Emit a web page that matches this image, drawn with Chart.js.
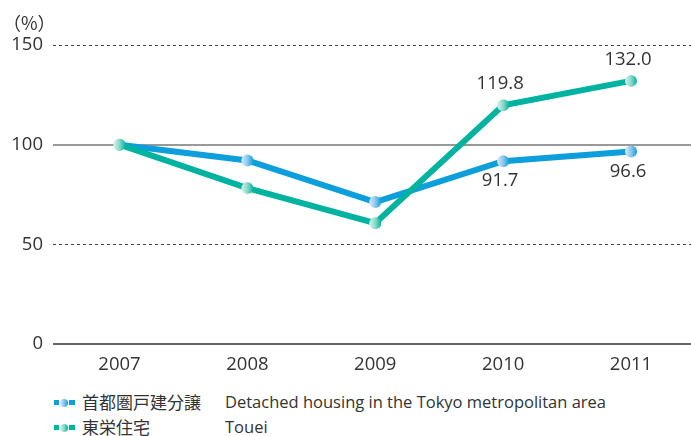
<!DOCTYPE html>
<html>
<head>
<meta charset="utf-8">
<script src="https://cdn.jsdelivr.net/npm/chart.js@4.4.1/dist/chart.umd.min.js"></script>
<style>
    html, body { margin: 0; padding: 0; background: #fff; overflow: hidden; }
    #wrap { position: relative; width: 691px; height: 436px; font-family: "Open Sans", "Noto Sans CJK JP", sans-serif; color: #333; }
    #unit { position: absolute; left: 3px; top: 10px; font-size: 18px; line-height: 24px; font-family: "Noto Sans CJK JP", sans-serif; }
    .row { position: absolute; left: 54px; height: 22px; line-height: 22px; font-size: 16.5px; white-space: nowrap; }
    .icon { position: absolute; left: 0; top: 9px; width: 22px; height: 5px; }
    .icon .sq { position: absolute; left: 0; top: 0; width: 5px; height: 5px; }
    .icon .bar { position: absolute; left: 15px; top: 0; width: 6px; height: 5px; }
    .icon .dot { position: absolute; left: 6px; top: -1.5px; width: 8px; height: 8px; border-radius: 4px; }
    .jp { position: absolute; left: 28px; font-size: 17px; font-family: "Noto Sans CJK JP", sans-serif; }
    .en { position: absolute; left: 171px; }
</style>
</head>
<body>
<div id="wrap">
    <canvas id="chart" width="691" height="380"></canvas>
    <div id="unit">（%）</div>
    <div id="legend"></div>
</div>
<script>
// data
const years = [2007, 2008, 2009, 2010, 2011];
const tokyoHousing = [100, 92.1, 71.2, 91.7, 96.6];
const touei = [100, 78.2, 60.6, 119.8, 132.0];
const labelYears = [2010, 2011];

const blue = '#0c9fdb';
const teal = '#00b3a0';

const series = [
    { jp: '首都圏戸建分譲', en: 'Detached housing in the Tokyo metropolitan area', data: tokyoHousing, color: blue, light: '#d8ecfa', mid: '#8fc6ee', below: true, order: 1 },
    { jp: '東栄住宅', en: 'Touei', data: touei, color: teal, light: '#d6f2ec', mid: '#8dd8c8', below: false, order: 0 },
];

let pointFill = function (s) {
    return function (context) {
        let chart = context.chart;
        if (!context.parsed || !chart.scales.x) return s.mid;
        let x = chart.scales.x.getPixelForValue(context.parsed.x);
        if (!isFinite(x)) return s.mid;
        let g = chart.ctx.createLinearGradient(x - 6, 0, x + 6, 0);
        g.addColorStop(0, s.light);
        g.addColorStop(0.5, s.mid);
        g.addColorStop(1, s.color);
        return g;
    };
};

let valueLabels = {
    id: 'valueLabels',
    afterDatasetsDraw(chart) {
        let ctx = chart.ctx;
        ctx.save();
        ctx.font = '18.5px "Open Sans", sans-serif';
        ctx.fillStyle = '#333';
        ctx.textAlign = 'center';
        ctx.textBaseline = 'middle';
        series.forEach((s, di) => {
            let meta = chart.getDatasetMeta(di);
            years.forEach((y, i) => {
                if (labelYears.indexOf(y) < 0) return;
                let pt = meta.data[i];
                let dy = s.below ? 20 : -21;
                ctx.fillText(s.data[i].toFixed(1), pt.x - 3, pt.y + dy);
            });
        });
        ctx.restore();
    }
};

let datasets = series.map(s => ({
    label: s.en,
    data: years.map((y, i) => ({ x: y, y: s.data[i] })),
    borderColor: s.color,
    borderWidth: 6,
    backgroundColor: s.color,
    pointRadius: 6,
    pointBorderWidth: 0,
    pointBackgroundColor: pointFill(s),
    tension: 0,
    order: s.order,
}));

new Chart(document.getElementById('chart'), {
    type: 'line',
    data: { datasets: datasets },
    options: {
        responsive: false,
        animation: false,
        layout: { autoPadding: false, padding: { top: 45, left: 12, right: 0, bottom: 0 } },
        plugins: { legend: { display: false }, tooltip: { enabled: false } },
        scales: {
            x: {
                type: 'linear',
                min: 2006.48,
                max: 2011.469,
                afterBuildTicks: scale => { scale.ticks = years.map(v => ({ value: v })); },
                afterFit: scale => {
                    scale.height = 36;
                    scale.paddingLeft = 0;
                    scale.paddingRight = 0;
                },
                grid: { display: false, drawTicks: false },
                border: { display: false },
                ticks: {
                    padding: 10,
                    color: '#333',
                    font: { family: '"Open Sans", sans-serif', size: 18.5 },
                    callback: v => String(v),
                },
            },
            y: {
                min: 0,
                max: 150,
                afterFit: scale => {
                    scale.width = 41;
                    scale.paddingTop = 0;
                    scale.paddingBottom = 0;
                },
                ticks: {
                    stepSize: 50,
                    padding: 10,
                    color: '#333',
                    font: { family: '"Open Sans", sans-serif', size: 18.5 },
                },
                border: { display: false, dash: ctx => (ctx.tick && (ctx.tick.value === 150 || ctx.tick.value === 50)) ? [3, 3] : [] },
                grid: {
                    drawTicks: false,
                    color: ctx => {
                        let v = ctx.tick ? ctx.tick.value : -1;
                        if (v === 100) return '#999';
                        if (v === 0) return '#666';
                        return '#444';
                    },
                    lineWidth: ctx => (ctx.tick && (ctx.tick.value === 100 || ctx.tick.value === 0)) ? 2 : 1,
                },
            },
        },
    },
    plugins: [valueLabels],
});

// legend below the chart
let legend = document.getElementById('legend');
series.forEach((s, i) => {
    let row = document.createElement('div');
    row.className = 'row';
    row.style.top = (391 + i * 25) + 'px';
    row.innerHTML = '<div class="icon"><div class="sq" style="background:' + s.color + '"></div>' +
        '<div class="dot" style="background:linear-gradient(to right,' + s.light + ',' + s.mid + ',' + s.color + ')"></div>' +
        '<div class="bar" style="background:' + s.color + '"></div></div>' +
        '<span class="jp">' + s.jp + '</span><span class="en">' + s.en + '</span>';
    legend.appendChild(row);
});
</script>
</body>
</html>
